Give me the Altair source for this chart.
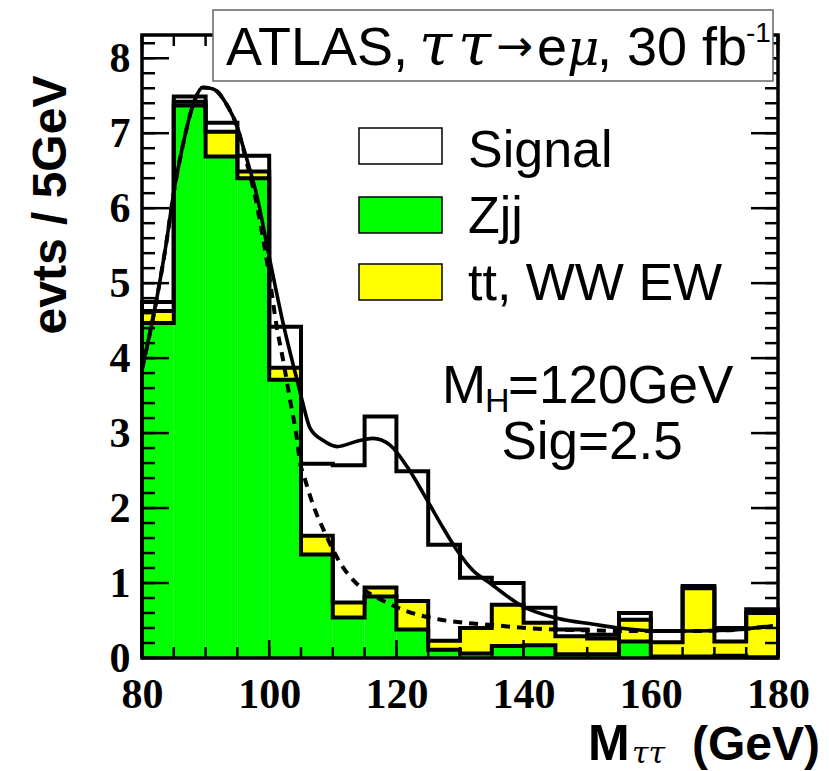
import altair as alt
import pandas as pd
import numpy as np

# ---------------- data ----------------
bin_lo = [80, 85, 90, 95, 100, 105, 110, 115, 120, 125, 130, 135, 140, 145, 150, 155, 160, 165, 170, 175]
BIN_W = 5
zjj = [4.47, 7.37, 6.69, 6.40, 3.71, 1.38, 0.54, 0.82, 0.38, 0.11,
       0.06, 0.16, 0.17, 0.05, 0.05, 0.22, 0.02, 0.02, 0.03, 0.01]
ttww = [0.16, 0.05, 0.33, 0.09, 0.16, 0.25, 0.20, 0.12, 0.38, 0.12,
        0.34, 0.55, 0.30, 0.24, 0.21, 0.29, 0.19, 0.91, 0.19, 0.59]
signal = [0.12, 0.07, 0.12, 0.21, 0.55, 0.96, 1.83, 2.28, 1.73, 1.28,
          0.67, 0.29, 0.20, 0.09, 0.05, 0.09, 0.15, 0.03, 0.18, 0.05]

# fitted curves
fit_x = [80.0, 82.4, 83.9, 84.9, 86.4, 88.0, 89.6, 91.2, 93.4, 94.9, 95.9, 98.1, 100.1,
         102.2, 104.4, 105.2, 106.4, 108.5, 110.7, 113.8, 116.3, 119.0, 121.7, 124.2,
         126.9, 129.5, 132.0, 134.7, 137.0, 139.4, 145.3, 151.0, 155.0, 161.4, 166.6,
         172.0, 179.2]
fit_y = [3.85, 4.83, 5.58, 6.16, 6.83, 7.37, 7.61, 7.59, 7.37, 7.10, 6.82, 6.15, 5.31,
         4.46, 3.70, 3.43, 3.07, 2.90, 2.82, 2.89, 2.93, 2.84, 2.55, 2.20,
         1.80, 1.44, 1.17, 1.00, 0.85, 0.71, 0.53, 0.45, 0.40, 0.36, 0.36,
         0.37, 0.43]
bkg_x = [80.0, 82.4, 83.9, 84.9, 86.4, 88.0, 89.6, 91.2, 93.4, 94.9, 96.5, 97.8, 99.0,
         100.1, 101.2, 102.2, 103.3, 104.4, 104.8, 105.5, 107.0, 108.6, 111.3, 113.9,
         118.0, 121.8, 127.0, 130.6, 135.0, 140.5, 145.0, 150.0, 155.0, 160.0, 166.6,
         172.0, 179.2]
bkg_y = [3.85, 4.83, 5.58, 6.16, 6.83, 7.37, 7.61, 7.59, 7.37, 7.10, 6.60, 6.15, 5.61,
         5.04, 4.41, 3.97, 3.43, 2.90, 2.63, 2.42, 2.02, 1.70, 1.25, 0.98,
         0.76, 0.62, 0.51, 0.47, 0.44, 0.40, 0.38, 0.37, 0.36, 0.36, 0.36,
         0.37, 0.43]

x_labels = [80, 100, 120, 140, 160, 180]
y_labels = [0, 1, 2, 3, 4, 5, 6, 7, 8]

# ---------------- layout ----------------
W, H = 636, 623
X0, Y0 = 142, 35          # plot origin inside the 829x771 page
GREEN = "#00ff00"
YELLOW = "#ffff00"
SANS = "Liberation Sans"
SERIF = "Liberation Serif"
GREEK = "DejaVu Serif"

xs = alt.Scale(domain=[80, 180], nice=False, zero=False)
ys = alt.Scale(domain=[0, 8.31], nice=False, zero=False)

X_AX = alt.Axis(values=x_labels, ticks=False, domain=False, grid=False, title=None,
                labelFont=SERIF, labelFontWeight="bold", labelFontSize=42,
                labelColor="black", labelPadding=16, labelFlush=False,
                labelOverlap=False, format="d")
Y_AX = alt.Axis(values=y_labels, ticks=False, domain=False, grid=False, title=None,
                labelFont=SERIF, labelFontWeight="bold", labelFontSize=42,
                labelColor="black", labelPadding=12, format="d", labelFlush=False,
                labelOverlap=False)


def XE(field):
    return alt.X(field, scale=xs, axis=X_AX)


def YE(field):
    return alt.Y(field, scale=ys, axis=Y_AX)


z = np.array(zjj)
b = z + np.array(ttww)
t = b + np.array(signal)
lo = np.array(bin_lo, dtype=float)
hi = lo + BIN_W

fills = pd.DataFrame({
    "lo": np.concatenate([lo, lo]),
    "hi": np.concatenate([hi, hi]),
    "y0": np.concatenate([np.zeros_like(z), z]),
    "y1": np.concatenate([z, b]),
    "comp": ["Zjj"] * len(z) + ["tt"] * len(z),
})


def step_frame(vals, name):
    xs_ = [80.0] + list(lo) + [180.0, 180.0]
    ys_ = [0.0] + list(vals) + [vals[-1], 0.0]
    return pd.DataFrame({"x": xs_, "y": ys_, "i": range(len(xs_)), "s": name})


steps = pd.concat([step_frame(z, "z"), step_frame(b, "b"), step_frame(t, "t")])

base_fill = alt.Chart(fills).mark_rect(strokeWidth=0).encode(
    x=XE("lo:Q"), x2="hi:Q", y=YE("y0:Q"), y2="y1:Q",
    color=alt.Color("comp:N", scale=alt.Scale(domain=["Zjj", "tt"], range=[GREEN, YELLOW]),
                    legend=None),
)

step_lines = alt.Chart(steps).mark_line(interpolate="step-after", strokeWidth=4,
                                        color="black", strokeJoin="miter").encode(
    x=XE("x:Q"), y=YE("y:Q"), detail="s:N", order=alt.Order("i:Q"),
)

fit_df = pd.DataFrame({"x": fit_x, "y": fit_y})
bkg_df = pd.DataFrame({"x": bkg_x, "y": bkg_y})

fit_line = alt.Chart(fit_df).mark_line(interpolate="monotone", strokeWidth=3.6,
                                       color="black").encode(x=XE("x:Q"), y=YE("y:Q"))
bkg_line = alt.Chart(bkg_df).mark_line(interpolate="monotone", strokeWidth=4,
                                       color="black", strokeDash=[9, 7]).encode(
    x=XE("x:Q"), y=YE("y:Q"))

# ---------------- ticks (inside, on all four sides) ----------------
ytick_minor = pd.DataFrame({"v": np.round(np.arange(0, 8.31, 0.2), 2)})
ytick_major = pd.DataFrame({"v": y_labels})
xtick_minor = pd.DataFrame({"v": np.arange(80, 181, 5)})
xtick_major = pd.DataFrame({"v": x_labels})


def yticks(df, length):
    left = alt.Chart(df).mark_rule(color="black", strokeWidth=2.5).encode(
        y=YE("v:Q"), x=alt.value(0), x2=alt.value(length))
    right = alt.Chart(df).mark_rule(color="black", strokeWidth=2.5).encode(
        y=YE("v:Q"), x=alt.value(W - length), x2=alt.value(W))
    return [left, right]


def xticks(df, length):
    bot = alt.Chart(df).mark_rule(color="black", strokeWidth=2.5).encode(
        x=XE("v:Q"), y=alt.value(H), y2=alt.value(H - length))
    top = alt.Chart(df).mark_rule(color="black", strokeWidth=2.5).encode(
        x=XE("v:Q"), y=alt.value(0), y2=alt.value(length))
    return [bot, top]


ticks = yticks(ytick_minor, 13) + yticks(ytick_major, 27) + \
    xticks(xtick_minor, 11) + xticks(xtick_major, 18)

one = pd.DataFrame({"a": [0]})

frame = alt.Chart(one).mark_rect(fill=None, stroke="black", strokeWidth=3.5).encode(
    x=alt.value(0), x2=alt.value(W), y=alt.value(0), y2=alt.value(H))


def box(x1, y1, x2, y2, fill, stroke="black", sw=1.5):
    return alt.Chart(one).mark_rect(fill=fill, stroke=stroke, strokeWidth=sw).encode(
        x=alt.value(x1 - X0), x2=alt.value(x2 - X0), y=alt.value(y1 - Y0), y2=alt.value(y2 - Y0))


def txt(s, x, y, size, font=SANS, weight="normal", align="left", angle=0,
        baseline="alphabetic", style="normal"):
    kw = dict(text=s, font=font, fontSize=size, fontWeight=weight, align=align,
              baseline=baseline, color="black", fontStyle=style)
    if angle:
        kw["angle"] = angle
    return alt.Chart(one).mark_text(**kw).encode(x=alt.value(x - X0), y=alt.value(y - Y0))


# title box
title_box = box(213, 10, 773, 81, "white", stroke="#666666", sw=1.5)
title_parts = [
    txt("ATLAS,", 226, 65, 54),
    txt("τ", 419, 65, 60, font=GREEK, style="italic"),
    txt("τ", 458, 65, 60, font=GREEK, style="italic"),
    txt("→", 496, 61, 44, font="DejaVu Sans"),
    txt("e", 537, 65, 54),
    txt("μ", 567, 65, 50, font=GREEK, style="italic"),
    txt(", 30 fb", 597, 65, 54),
    txt("-1", 746, 42, 28),
]

# legend
legend = [
    box(359, 128, 442, 164, "white"),
    box(359, 197, 442, 233, GREEN),
    box(359, 264, 442, 300, YELLOW),
    txt("Signal", 468, 167, 52),
    txt("Zjj", 468, 233, 52),
    txt("tt, WW EW", 468, 300, 52),
]

annot = [
    txt("M", 442, 403, 53),
    txt("H", 485, 412, 34),
    txt("=120GeV", 508, 403, 53),
    txt("Sig=2.5", 592, 459, 53, align="center"),
]

axis_titles = [
    txt("evts / 5GeV", 66, 205, 48, weight="bold", align="center", angle=270),
    txt("M", 588, 760, 50, weight="bold"),
    txt("ττ", 632, 763, 30, font=GREEK, style="italic"),
    txt("(GeV)", 820, 760, 48, weight="bold", align="right"),
]

chart = alt.layer(
    base_fill, step_lines, bkg_line, fit_line, *ticks, frame,
    title_box, *title_parts, *legend, *annot, *axis_titles
).properties(
    width=W, height=H,
    padding={"left": X0, "top": Y0, "right": 829 - X0 - W, "bottom": 771 - Y0 - H},
    autosize=alt.AutoSizeParams(type="none"),
    background="white",
).configure_view(stroke=None)

chart.save("out.html", embed_options={"renderer": "svg", "actions": False})
